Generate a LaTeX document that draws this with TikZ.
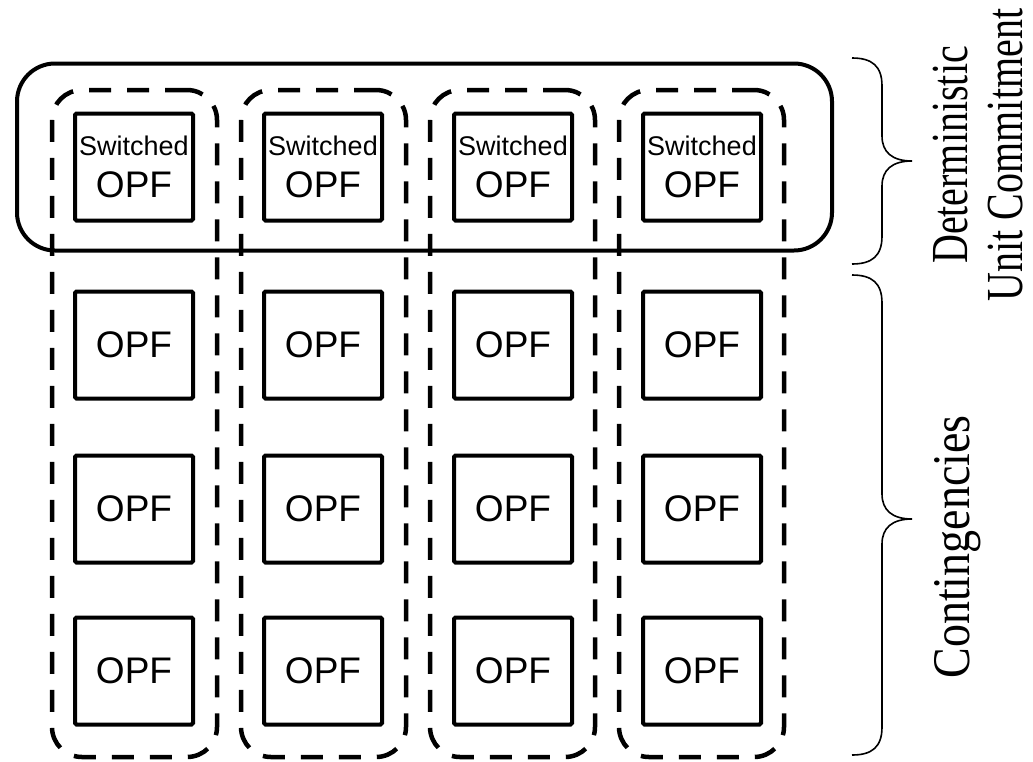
\documentclass[tikz,border=0pt]{standalone}
\usepackage{fontspec}
\setmainfont{Liberation Serif}
\newfontfamily\arialf{Liberation Sans}
\newcommand{\tallt}[1]{\scalebox{1}[1.3]{#1}}
\begin{document}
\begin{tikzpicture}[x=1pt,y=-1pt,
  opf/.style={draw, line width=4pt, minimum width=118pt, minimum height=107pt, inner sep=0pt, align=center,
    font=\arialf\fontsize{37}{42}\selectfont, rounded corners=1.5pt},
  colgroup/.style={draw, line width=4.5pt, dash pattern=on 22pt off 16pt, rounded corners=30pt,
    minimum width=165pt, minimum height=667pt, inner sep=0pt},
  dugroup/.style={draw, line width=4pt, rounded corners=38pt, minimum width=815pt, minimum height=187pt, inner sep=0pt},
  bracel/.style={line width=1.6pt},
  lbl/.style={rotate=90, font=\fontsize{40}{55}\selectfont, align=center, inner sep=0pt}]
\useasboundingbox (0,0) rectangle (1033,761);
% deterministic UC group
\node[dugroup] (du) at (424.5,157) {};
% column groups
\foreach \i/\x in {1/134.5,2/323.5,3/512.5,4/701.5}{
  \node[colgroup] (col\i) at (\x,423.5) {};
}
% OPF boxes
\foreach \i/\x in {1/134,2/323,3/513,4/702}{
  \node[opf] (s\i) at (\x,167) {{\fontsize{27}{42}\selectfont Switched}\\OPF};
  \node[opf] (a\i) at (\x,345) {OPF};
  \node[opf] (b\i) at (\x,509) {OPF};
  \node[opf] (c\i) at (\x,671) {OPF};
}
% braces
\coordinate (t1) at (852,58);
\coordinate (t2) at (852,264);
\coordinate (u1) at (852,275);
\coordinate (u2) at (852,755);
\draw[bracel] (t1) .. controls (872,58) and (882,66) .. (882,86) -- (882,136)
  .. controls (882,152) and (892,161) .. (912,161)
  .. controls (892,161) and (882,170) .. (882,186) -- (882,236)
  .. controls (882,256) and (872,264) .. (t2);
\draw[bracel] (u1) .. controls (872,275) and (882,283) .. (882,303) -- (882,494)
  .. controls (882,510) and (892,519) .. (912,519)
  .. controls (892,519) and (882,528) .. (882,544) -- (882,727)
  .. controls (882,747) and (872,755) .. (u2);
% labels
\node[lbl] (duc) at (978,155) {\tallt{Deterministic}\\\tallt{Unit Commitment}};
\node[lbl, font=\fontsize{46}{55}\selectfont] (cont) at (958,547) {\scalebox{1}[1.15]{Contingencies}};
\end{tikzpicture}
\end{document}
